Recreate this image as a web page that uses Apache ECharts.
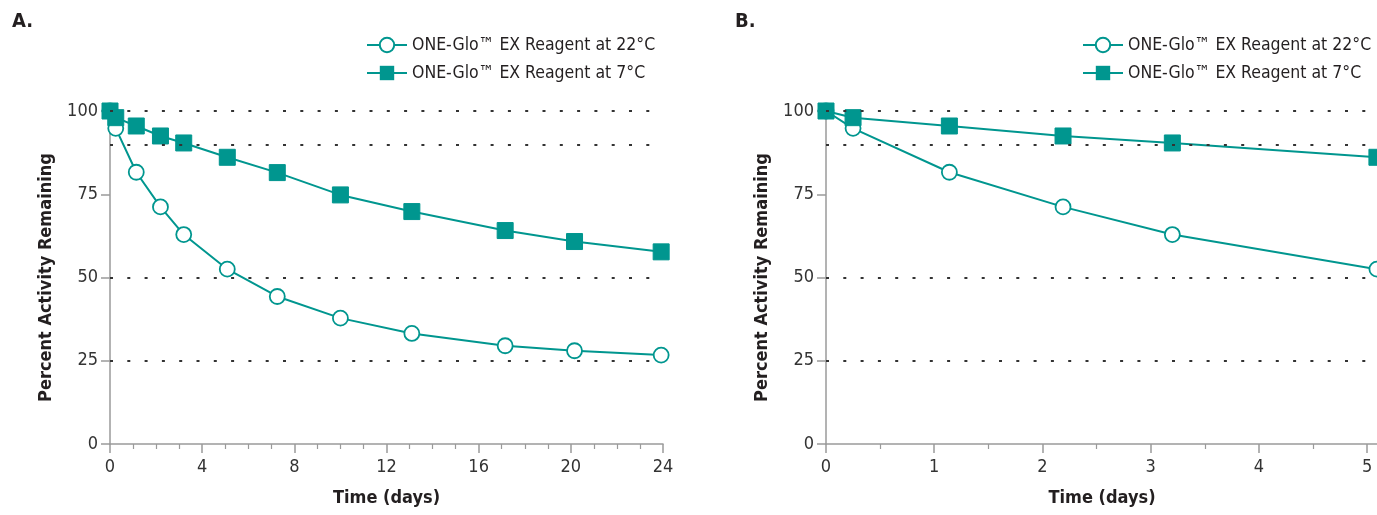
<!DOCTYPE html>
<html lang="en">
<head>
    <meta charset="UTF-8">
    <title>ONE-Glo EX Reagent stability</title>
    <style>
        html, body { margin: 0; padding: 0; background: #fff; }
        #chart { width: 1377px; height: 515px; }
    </style>
</head>
<body>
<div id="chart"></div>
<script src="https://cdn.jsdelivr.net/npm/echarts@6/dist/echarts.min.js"></script>
<script>
    // data (panel B is the first days of panel A)
    const days = [0, 0.25, 1.14, 2.19, 3.2, 5.09, 7.26, 10, 13.1, 17.15, 20.16, 23.92];
    const pct22 = [100, 94.8, 81.6, 71.2, 62.9, 52.5, 44.3, 37.8, 33.2, 29.5, 28.0, 26.7];
    const pct7 = [100, 98.0, 95.5, 92.5, 90.4, 86.1, 81.5, 74.8, 69.8, 64.1, 60.8, 57.7];
    const seriesNames = ['ONE-Glo™ EX Reagent at 22°C', 'ONE-Glo™ EX Reagent at 7°C'];
    const refLines = [100, 90, 50, 25];
    const panelLabels = ['A.', 'B.'];

    const teal = '#00968f';
    const axisGrey = '#9a9a9a';
    const ink = '#231f20';
    const font = "'Liberation Sans Narrow', 'DejaVu Sans Condensed', 'Roboto Condensed', sans-serif";

    const pairs = (ys) => days.map((d, i) => [d, ys[i]]);

    function xAxisFor(idx, max, interval, minorSplit) {
        return {
            gridIndex: idx, type: 'value', min: 0, max: max, interval: interval,
            name: 'Time (days)', nameLocation: 'middle', nameGap: 45,
            nameTextStyle: { fontFamily: font, fontWeight: 'bold', fontSize: 18, color: ink },
            axisLine: { lineStyle: { color: axisGrey, width: 1.5 } },
            axisTick: { length: 9, lineStyle: { color: axisGrey, width: 1.5 } },
            minorTick: { show: true, splitNumber: minorSplit, length: 5, lineStyle: { color: axisGrey, width: 1.2 } },
            axisLabel: { margin: 14, fontFamily: font, fontSize: 18, color: '#333', showMaxLabel: Number.isInteger(max / interval) },
            splitLine: { show: false }
        };
    }

    function yAxisFor(idx) {
        return {
            gridIndex: idx, type: 'value', min: 0, max: 100, interval: 25,
            name: 'Percent Activity Remaining', nameLocation: 'middle', nameGap: 55,
            nameTextStyle: { fontFamily: font, fontWeight: 'bold', fontSize: 18, color: ink },
            axisLine: { show: true, lineStyle: { color: axisGrey, width: 1.5 } },
            axisTick: { show: true, length: 9, lineStyle: { color: axisGrey, width: 1.5 } },
            axisLabel: { margin: 12, fontFamily: font, fontSize: 18, color: '#333' },
            splitLine: { show: false }
        };
    }

    function seriesFor(idx) {
        return [
            {
                name: seriesNames[0], type: 'line', xAxisIndex: idx, yAxisIndex: idx,
                data: pairs(pct22), clip: true,
                symbol: 'circle', symbolSize: 15,
                itemStyle: { color: '#fff', borderColor: teal, borderWidth: 1.8 },
                lineStyle: { color: teal, width: 2 },
                markLine: {
                    silent: true, symbol: 'none', label: { show: false },
                    lineStyle: { color: '#333', width: 1.8, type: [3, 14.3], dashOffset: 0 },
                    data: refLines.map(v => ({ yAxis: v }))
                },
                z: 3
            },
            {
                name: seriesNames[1], type: 'line', xAxisIndex: idx, yAxisIndex: idx,
                data: pairs(pct7), clip: true,
                symbol: 'rect', symbolSize: 16,
                itemStyle: { color: teal, borderColor: teal },
                lineStyle: { color: teal, width: 2 },
                z: 4
            }
        ];
    }

    function legendFor(left) {
        return {
            orient: 'vertical', left: left, top: 31, itemGap: 10,
            itemWidth: 40, itemHeight: 18,
            data: seriesNames,
            textStyle: { fontFamily: font, fontSize: 17.5, color: ink }
        };
    }

    const chart = echarts.init(document.getElementById('chart'));
    chart.setOption({
        animation: false,
        title: [
            { text: panelLabels[0], left: 7, top: 7, textStyle: { fontFamily: font, fontWeight: 'bold', fontSize: 20, color: ink } },
            { text: panelLabels[1], left: 730, top: 7, textStyle: { fontFamily: font, fontWeight: 'bold', fontSize: 20, color: ink } }
        ],
        legend: [legendFor(361), legendFor(1077)],
        grid: [
            { left: 110, width: 553, top: 111, bottom: 71, outerBoundsMode: 'none' },
            // panel B runs to the right edge of the picture
            { left: 826, width: 552, top: 111, bottom: 71, outerBoundsMode: 'none' }
        ],
        xAxis: [xAxisFor(0, 24, 4, 4), xAxisFor(1, 5.1, 1, 2)],
        yAxis: [yAxisFor(0), yAxisFor(1)],
        series: seriesFor(0).concat(seriesFor(1))
    });
</script>
</body>
</html>
